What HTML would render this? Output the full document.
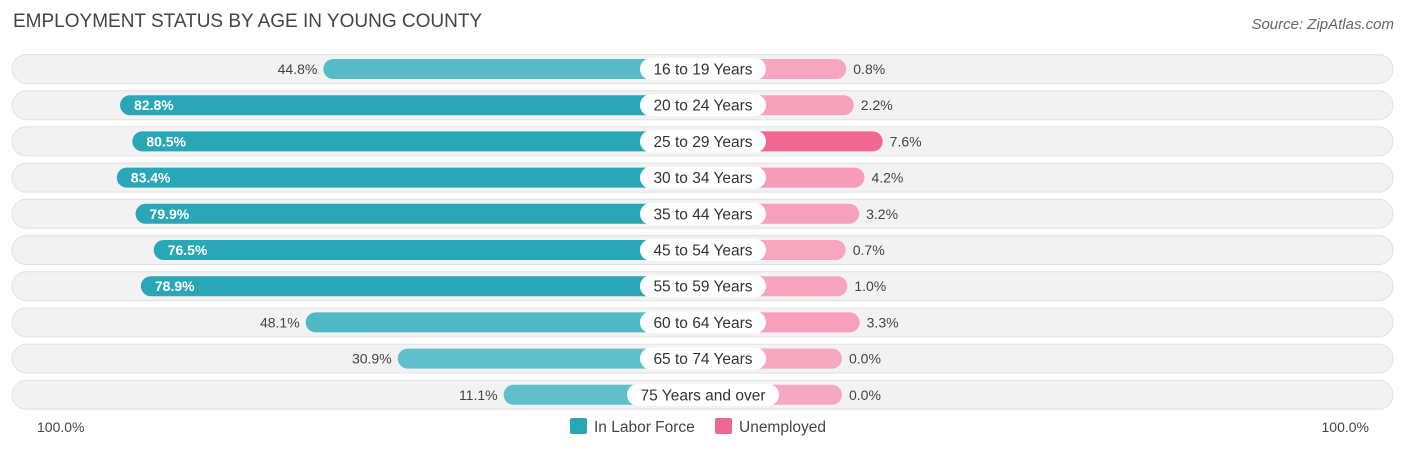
<!DOCTYPE html>
<html><head><meta charset="utf-8"><style>
body{margin:0;width:1406px;height:451px;background:#fff;font-family:"Liberation Sans",sans-serif;overflow:hidden;position:relative}
#title{position:absolute;left:13px;top:11px;font-size:19px;color:#444}
#source{position:absolute;right:12px;top:16px;font-size:15px;color:#666;font-style:italic}
</style></head><body>
<div id="title">EMPLOYMENT STATUS BY AGE IN YOUNG COUNTY</div>
<div id="source">Source: ZipAtlas.com</div>
<svg id="chart" width="1406" height="451" style="position:absolute;left:0;top:0"></svg>
<script>
const categories=["16 to 19 Years","20 to 24 Years","25 to 29 Years","30 to 34 Years","35 to 44 Years","45 to 54 Years","55 to 59 Years","60 to 64 Years","65 to 74 Years","75 Years and over"];
const laborForce=[44.8,82.8,80.5,83.4,79.9,76.5,78.9,48.1,30.9,11.1];
const unemployed=[0.8,2.2,7.6,4.2,3.2,0.7,1.0,3.3,0.0,0.0];
const axisLabels=["100.0%","100.0%"];
const NS="http://www.w3.org/2000/svg";
const svg=document.getElementById('chart');
const cx=703,base=140,scale=5.35,y0=69,dy=36.2;
function lx(v){return cx-(base+scale*v);}
function rx(v){return cx+(base-1)+scale*v;}
function rowY(i){return y0+dy*i;}
function mix(a,b,t){const p=s=>[1,3,5].map(k=>parseInt(s.substr(k,2),16));const A=p(a),B=p(b);return 'rgb('+A.map((x,k)=>Math.round(x+(B[k]-x)*t)).join(',')+')';}
function mk(tag,attrs,parent){const e=document.createElementNS(NS,tag);for(const k in attrs)e.setAttribute(k,attrs[k]);(parent||svg).appendChild(e);return e;}
const maxL=Math.max(...laborForce),maxU=Math.max(...unemployed)||1;
categories.forEach((c,i)=>{
 const y=rowY(i);
 const g=mk('g',{});
 
 
 const bg=mk('rect',{x:12,y:y-14.5,width:1381,height:29,rx:14.5,fill:'#f2f2f2',stroke:'#e2e2e2','stroke-width':1},g);
 
 
 const lv=laborForce[i],x1=lx(lv);
 const tl=Math.min(1,Math.max(0,(lv-40)/30));
 const lb=mk('rect',{x:x1,y:y-10,width:cx-x1,height:20,rx:10,fill:mix('#5fbfca','#29a7b7',tl)},g);
 
 
 const uv=unemployed[i],x2=rx(uv);
 const tu=Math.min(1,uv/maxU*1.0);
 const ub=mk('rect',{x:cx,y:y-10,width:x2-cx,height:20,rx:10,fill:mix('#f7a8c1','#f06791',tu>0.8?1:tu*0.3)},g);
 
 
 const inside=lv>60;
 const t1=mk('text',{x:inside?x1+14:x1-6,y:y+5,'font-size':14,'text-anchor':inside?'start':'end',fill:inside?'#fff':'#444','font-weight':inside?'bold':'normal'},g);
 t1.textContent=lv.toFixed(1)+'%';
 
 
 const t2=mk('text',{x:x2+7,y:y+5,'font-size':14,fill:'#444'},g);
 t2.textContent=uv.toFixed(1)+'%';
 
 
 const w=c.length>14?152:126;
 const pill=mk('rect',{x:cx-w/2,y:y-11,width:w,height:22,rx:11,fill:'#fff'},g);
 
 
 const lt=mk('text',{x:cx,y:y+5.5,'font-size':15.5,'text-anchor':'middle',fill:'#333'},g);
 lt.textContent=c;
 
 
});
const a1=mk('text',{x:37,y:432,'font-size':14,fill:'#444'});a1.textContent=axisLabels[0];


const a2=mk('text',{x:1369,y:432,'font-size':14,fill:'#444','text-anchor':'end'});a2.textContent=axisLabels[1];


const l1=mk('rect',{x:570,y:418,width:17,height:16,rx:2,fill:'#29a7b7'});


const lt1=mk('text',{x:594,y:432,'font-size':15.5,fill:'#444'});lt1.textContent='In Labor Force';


const l2=mk('rect',{x:715,y:418,width:17,height:16,rx:2,fill:'#f06791'});


const lt2=mk('text',{x:739,y:432,'font-size':15.5,fill:'#444'});lt2.textContent='Unemployed';


</script>
</body></html>
